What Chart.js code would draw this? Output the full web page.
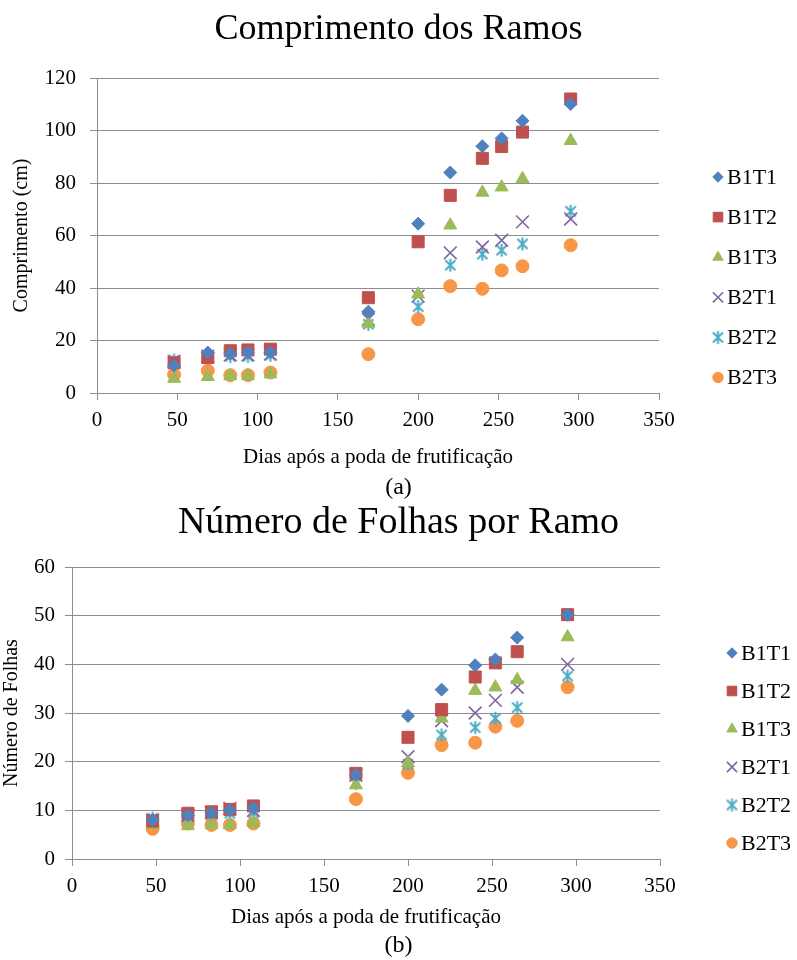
<!DOCTYPE html>
<html lang="pt">
<head>
<meta charset="utf-8">
<title>Comprimento dos Ramos e Número de Folhas</title>
<script src="https://cdn.jsdelivr.net/npm/chart.js@4.4.1/dist/chart.umd.min.js"></script>
<style>
  html, body { margin: 0; padding: 0; background: #fff; }
  body { width: 797px; height: 960px; position: relative; overflow: hidden; }
  canvas { position: absolute; left: 0; }
  #graficoA { top: 0; }
  #graficoB { top: 500px; }
</style>
</head>
<body>
<canvas id="graficoA" width="797" height="502"></canvas>
<canvas id="graficoB" width="797" height="460"></canvas>
<script>
// dias após a poda de frutificação (eixo x dos dois gráficos)
const dias = [48, 69, 83, 94, 108, 169, 200, 220, 240, 252, 265, 295];

const series = ['B1T1', 'B1T2', 'B1T3', 'B2T1', 'B2T2', 'B2T3'];

// comprimento dos ramos (cm)
const compB1T1 = [10.5, 15.4, 15, 15.5, 15.5, 31, 64.5, 84, 94, 97, 103.7, 110.1];
const compB1T2 = [11.5, 13.5, 16.1, 16.4, 16.7, 36.3, 57.6, 75.3, 89.4, 93.9, 99.4, 112];
const compB1T3 = [5.5, 6.2, 6.5, 6.5, 7.2, 26.5, 37.6, 63.9, 76.4, 78.4, 81.6, 96.1];
const compB2T1 = [12, 14, 14.5, 14.5, 14.8, 28.1, 36.9, 53.4, 55.6, 58.2, 65.2, 66.3];
const compB2T2 = [12.5, 13.3, 13.9, 13.9, 14.4, 26.2, 32.9, 48.7, 52.9, 54.4, 56.8, 69.2];
const compB2T3 = [7, 8.5, 6.8, 6.8, 7.8, 14.8, 28.1, 40.7, 39.7, 46.7, 48.3, 56.3];

// número de folhas por ramo
const folB1T1 = [8, 9, 9.5, 10, 10.5, 17.3, 29.4, 34.8, 39.8, 41, 45.5, 50.2];
const folB1T2 = [7.8, 9.4, 9.7, 10.2, 10.9, 17.6, 25, 30.7, 37.4, 40.3, 42.6, 50.2];
const folB1T3 = [7, 6.8, 7, 7, 7.5, 15.2, 19.7, 28.9, 34.6, 35.3, 36.8, 45.6];
const folB2T1 = [8, 9, 9.5, 10.4, 10, 17.2, 21, 28.4, 30, 32.6, 35.3, 40];
const folB2T2 = [8.4, 8.7, 9, 9.4, 9.5, 15.5, 19.5, 25.5, 27, 28.9, 31.1, 37.6];
const folB2T3 = [6.2, 7.3, 7, 7, 7.3, 12.3, 17.7, 23.4, 23.9, 27.2, 28.4, 35.3];

const cores = ['#4F81BD', '#C0504D', '#9BBB59', '#8064A2', '#4BACC6', '#F79646'];
const FONTE = '"Liberation Serif", "Times New Roman", serif';
const CINZA = '#8e8e8e';

Chart.defaults.font.family = FONTE;
Chart.defaults.color = '#000';

// marcador "asterisco" (X com traço vertical)
function asterisco(cor, tam) {
  const c = document.createElement('canvas');
  c.width = c.height = tam;
  const g = c.getContext('2d');
  const m = tam / 2, r = tam / 2 - 1, a = r * 0.78;
  g.strokeStyle = cor;
  g.lineWidth = 2;
  g.beginPath();
  g.moveTo(m, m - r); g.lineTo(m, m + r);
  g.moveTo(m - a, m - a); g.lineTo(m + a, m + a);
  g.moveTo(m + a, m - a); g.lineTo(m - a, m + a);
  g.stroke();
  return c;
}

const estilos = ['rectRot', 'rect', 'triangle', 'crossRot', asterisco(cores[4], 15), 'circle'];
const raios = [6.5, 8.5, 7.5, 9, 7, 6.5];

function montaSeries(valores) {
  return valores.map((ys, i) => ({
    label: series[i],
    data: ys.map((y, k) => ({ x: dias[k], y })),
    pointStyle: estilos[i],
    pointRadius: raios[i],
    backgroundColor: cores[i],
    borderColor: cores[i],
    borderWidth: i === 3 ? 1.6 : 1,
    showLine: false
  }));
}

// legenda à direita, desenhada com os próprios marcadores das séries
const legendaLateral = {
  id: 'legendaLateral',
  afterDraw(chart, args, opts) {
    const ctx = chart.ctx;
    ctx.save();
    chart.data.datasets.forEach((ds, i) => {
      const y = opts.top + i * opts.gap;
      ctx.fillStyle = ds.backgroundColor;
      ctx.strokeStyle = ds.borderColor;
      ctx.lineWidth = ds.borderWidth;
      Chart.helpers.drawPoint(ctx, {
        pointStyle: ds.pointStyle,
        radius: ds.pointRadius * 0.8,
        borderWidth: ds.borderWidth,
        rotation: 0
      }, opts.x, y);
      ctx.fillStyle = '#000';
      ctx.font = '22px ' + FONTE;
      ctx.textBaseline = 'middle';
      ctx.textAlign = 'left';
      ctx.fillText(ds.label, opts.x + 9, y + 1);
    });
    ctx.restore();
  }
};

function grafico(id, cfg) {
  return new Chart(document.getElementById(id), {
    type: 'scatter',
    data: { datasets: montaSeries(cfg.valores) },
    plugins: [legendaLateral],
    options: {
      responsive: false,
      animation: false,
      events: [],
      devicePixelRatio: 1,
      layout: { padding: 0 },
      plugins: {
        legend: { display: false },
        tooltip: { enabled: false },
        title: {
          display: true,
          text: cfg.titulo,
          font: { size: cfg.tamTitulo, weight: 'normal' },
          padding: { top: cfg.tituloTopo, bottom: cfg.tituloBase }
        },
        subtitle: {
          display: true,
          text: cfg.rotulo,
          position: 'bottom',
          font: { size: 24, weight: 'normal' },
          padding: { top: 0, bottom: 0 }
        },
        legendaLateral: cfg.legenda
      },
      scales: {
        x: {
          type: 'linear',
          min: 0, max: 350,
          ticks: { stepSize: 50, font: { size: 21 }, padding: 8, maxRotation: 0 },
          grid: { drawOnChartArea: false, drawTicks: true, tickLength: 7, color: CINZA },
          border: { display: true, color: CINZA },
          title: {
            display: true,
            text: 'Dias após a poda de frutificação',
            font: { size: 21 },
            padding: { top: 0, bottom: cfg.tituloXBase }
          },
          afterFit(s) { s.height = cfg.alturaX; }
        },
        y: {
          min: 0, max: cfg.yMax,
          ticks: { stepSize: cfg.yPasso, font: { size: 21 }, padding: cfg.folgaY },
          grid: { color: CINZA, drawTicks: true, tickLength: 7 },
          border: { display: true, color: CINZA },
          title: {
            display: true,
            text: cfg.tituloY,
            font: { size: 20 },
            padding: { top: cfg.tituloYTopo, bottom: 0 }
          },
          afterFit(s) { s.width = cfg.larguraY; }
        },
        // faixa vazia à direita onde fica a legenda
        faixaLegenda: {
          type: 'linear',
          position: 'right',
          ticks: { display: false },
          grid: { display: false },
          border: { display: false },
          afterFit(s) { s.width = cfg.direita; }
        }
      }
    }
  });
}

grafico('graficoA', {
  valores: [compB1T1, compB1T2, compB1T3, compB2T1, compB2T2, compB2T3],
  titulo: 'Comprimento dos Ramos',
  rotulo: '(a)',
  tituloY: 'Comprimento (cm)',
  yMax: 120, yPasso: 20,
  direita: 138,
  tamTitulo: 36, tituloTopo: 8, tituloBase: 26.8,
  larguraY: 97, folgaY: 14, tituloYTopo: 10,
  alturaX: 80.2, tituloXBase: 3,
  legenda: { x: 718, top: 177, gap: 40.1 }
});

grafico('graficoB', {
  valores: [folB1T1, folB1T2, folB1T3, folB2T1, folB2T2, folB2T3],
  titulo: 'Número de Folhas por Ramo',
  rotulo: '(b)',
  tituloY: 'Número de Folhas',
  yMax: 60, yPasso: 10,
  direita: 137,
  tamTitulo: 38, tituloTopo: 0.2, tituloBase: 21.2,
  larguraY: 72, folgaY: 10, tituloYTopo: 0,
  alturaX: 72.2, tituloXBase: 1,
  legenda: { x: 732, top: 153, gap: 38 }
});
</script>
</body>
</html>
